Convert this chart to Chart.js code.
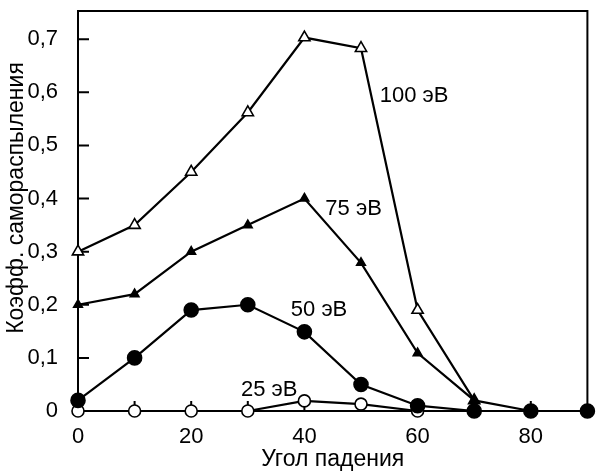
<!DOCTYPE html>
<html>
<head>
<meta charset="utf-8">
<script src="https://cdn.jsdelivr.net/npm/chart.js@4/dist/chart.umd.min.js"></script>
<style>
  html, body { margin: 0; padding: 0; background: #fff; }
  #wrap { width: 596px; height: 473px; }
</style>
</head>
<body>
<div id="wrap"><canvas id="chart"></canvas></div>
<script>
// углы падения, градусы
var angles = [0, 10, 20, 30, 40, 50, 60, 70, 80, 90];

// коэффициенты самораспыления для разных энергий
var y100 = [0.30, 0.35, 0.45, 0.562, 0.703, 0.683, 0.19, 0.02];
var y75  = [0.20, 0.22, 0.30, 0.35, 0.40, 0.279, 0.109, 0.02, 0];
var y50  = [0.02, 0.10, 0.19, 0.20, 0.149, 0.05, 0.01, 0, 0, 0];
var y25  = [0, 0, 0, 0, 0.019, 0.013, 0];

// подписи кривых: текст, угол, значение
var curveLabels = [
    ['100 эВ', 53.3, 0.593],
    ['75 эВ', 43.7, 0.381],
    ['50 эВ', 37.6, 0.19],
    ['25 эВ', 28.8, 0.04]
];

var FONT = '"Liberation Sans", Arial, sans-serif';

let toPoints = function (vals) {
    return vals.map((v, i) => ({ x: angles[i], y: v }));
};

let frameTicks = {
    id: 'frameTicks',
    beforeDatasetsDraw: function (chart) {
        var ctx = chart.ctx, a = chart.chartArea;
        var sx = chart.scales.x, sy = chart.scales.y;
        ctx.save();
        ctx.strokeStyle = '#000';
        ctx.lineWidth = 2;
        ctx.strokeRect(a.left, a.top, a.right - a.left, a.bottom - a.top);
        ctx.beginPath();
        for (var x = 10; x <= 80; x += 10) {
            var px = sx.getPixelForValue(x);
            ctx.moveTo(px, a.bottom);
            ctx.lineTo(px, a.bottom - 10);
        }
        for (var y = 1; y <= 7; y++) {
            var py = sy.getPixelForValue(y / 10);
            ctx.moveTo(a.left, py);
            ctx.lineTo(a.left + 11, py);
        }
        ctx.stroke();

        // подпись оси Y
        ctx.fillStyle = '#000';
        ctx.font = '23px ' + FONT;
        ctx.textAlign = 'center';
        ctx.textBaseline = 'middle';
        ctx.translate(17, 198);
        ctx.rotate(-Math.PI / 2);
        ctx.fillText('Коэфф. самораспыления', 0, 0);
        ctx.restore();
    },
    afterDatasetsDraw: function (chart) {
        var ctx = chart.ctx;
        var sx = chart.scales.x, sy = chart.scales.y;
        ctx.save();
        ctx.fillStyle = '#000';
        ctx.font = '22px ' + FONT;
        ctx.textAlign = 'left';
        ctx.textBaseline = 'middle';
        curveLabels.forEach(function (l) {
            ctx.fillText(l[0], sx.getPixelForValue(l[1]), sy.getPixelForValue(l[2]));
        });
        ctx.restore();
    }
};

let mkSet = function (vals, style, radius, fill) {
    return {
        data: toPoints(vals),
        borderColor: '#000',
        borderWidth: 2.2,
        pointStyle: style,
        pointRadius: radius,
        pointBackgroundColor: fill,
        pointBorderColor: '#000',
        pointBorderWidth: 1.6,
        showLine: true,
        tension: 0,
        clip: false
    };
};

var ctx = document.getElementById('chart').getContext('2d');
new Chart(ctx, {
    type: 'scatter',
    data: {
        // первый набор рисуется поверх остальных
        datasets: [
            mkSet(y50, 'circle', 7, '#000'),
            mkSet(y25, 'circle', 6, '#fff'),
            mkSet(y75, 'triangle', 5, '#000'),
            mkSet(y100, 'triangle', 6.5, '#fff')
        ]
    },
    options: {
        responsive: true,
        maintainAspectRatio: false,
        animation: false,
        layout: { padding: { top: 11, right: 2, left: 0, bottom: 0 } },
        plugins: { legend: { display: false }, tooltip: { enabled: false } },
        scales: {
            x: {
                type: 'linear',
                min: 0, max: 90,
                grid: { display: false },
                border: { display: false },
                afterFit: function (s) {
                    s.height = 62;
                    s.paddingLeft = 0;
                    s.paddingRight = 0;
                },
                ticks: {
                    stepSize: 10,
                    autoSkip: false,
                    maxRotation: 0,
                    padding: 5,
                    color: '#000',
                    font: { family: FONT, size: 22 },
                    callback: (v) => (v % 20 === 0 ? String(v) : '')
                },
                title: {
                    display: true,
                    text: 'Угол падения',
                    color: '#000',
                    font: { family: FONT, size: 23 },
                    padding: { top: 0, bottom: 0 }
                }
            },
            y: {
                type: 'linear',
                min: 0, max: 0.753,
                grid: { display: false },
                border: { display: false },
                afterFit: function (s) {
                    s.width = 78;
                    s.paddingTop = 0;
                    s.paddingBottom = 0;
                },
                ticks: {
                    stepSize: 0.1,
                    includeBounds: false,
                    padding: 12,
                    color: '#000',
                    font: { family: FONT, size: 22 },
                    callback: function (v) {
                        var r = Math.round(v * 10) / 10;
                        return r === 0 ? '0' : r.toFixed(1).replace('.', ',');
                    }
                }
            }
        }
    },
    plugins: [frameTicks]
});
</script>
</body>
</html>
